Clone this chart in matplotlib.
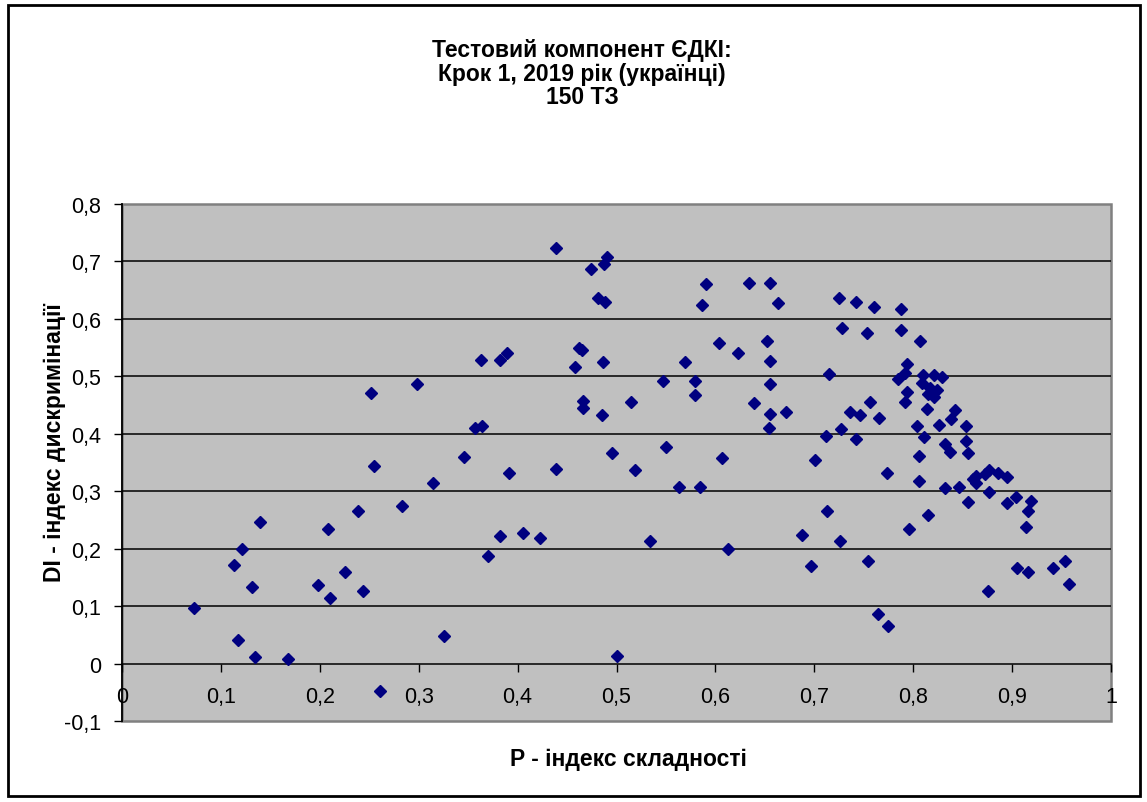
import matplotlib
matplotlib.use("Agg")
import matplotlib.pyplot as plt
from matplotlib.patches import Rectangle
from matplotlib.ticker import FixedLocator, FixedFormatter

plt.rcParams['font.family'] = ['Liberation Sans', 'DejaVu Sans']

title = "Тестовий компонент ЄДКІ:\nКрок 1, 2019 рік (українці)\n150 ТЗ"
x_label = "P - індекс складності"
y_label = "DI - індекс дискримінації"

x_ticks = [0, 0.1, 0.2, 0.3, 0.4, 0.5, 0.6, 0.7, 0.8, 0.9, 1.0]
x_tick_labels = ["0", "0,1", "0,2", "0,3", "0,4", "0,5", "0,6", "0,7", "0,8", "0,9", "1"]
y_ticks = [-0.1, 0, 0.1, 0.2, 0.3, 0.4, 0.5, 0.6, 0.7, 0.8]
y_tick_labels = ["-0,1", "0", "0,1", "0,2", "0,3", "0,4", "0,5", "0,6", "0,7", "0,8"]

P = [0.073, 0.113, 0.121, 0.131, 0.140, 0.117, 0.134, 0.168, 0.198, 0.210,
     0.208, 0.225, 0.239, 0.244, 0.255, 0.283, 0.314, 0.326, 0.261, 0.252,
     0.298, 0.439, 0.474, 0.487, 0.490, 0.481, 0.488, 0.590, 0.586, 0.634,
     0.655, 0.363, 0.382, 0.389, 0.462, 0.465, 0.458, 0.486, 0.604, 0.623,
     0.652, 0.655, 0.569, 0.547, 0.579, 0.579, 0.655, 0.466, 0.466, 0.485,
     0.515, 0.639, 0.655, 0.654, 0.357, 0.364, 0.346, 0.495, 0.550, 0.607,
     0.439, 0.391, 0.519, 0.563, 0.584, 0.382, 0.405, 0.423, 0.370, 0.534,
     0.613, 0.500, 0.663, 0.725, 0.742, 0.760, 0.788, 0.728, 0.753, 0.788,
     0.807, 0.715, 0.794, 0.792, 0.785, 0.810, 0.821, 0.829, 0.809, 0.817,
     0.824, 0.815, 0.821, 0.794, 0.792, 0.814, 0.842, 0.838, 0.826, 0.804,
     0.853, 0.671, 0.736, 0.746, 0.756, 0.765, 0.727, 0.712, 0.742, 0.811,
     0.832, 0.837, 0.853, 0.855, 0.806, 0.701, 0.774, 0.806, 0.832, 0.846,
     0.860, 0.863, 0.863, 0.873, 0.877, 0.886, 0.895, 0.877, 0.855, 0.895,
     0.904, 0.919, 0.916, 0.914, 0.713, 0.815, 0.796, 0.688, 0.726, 0.697,
     0.754, 0.905, 0.916, 0.941, 0.953, 0.958, 0.876, 0.764, 0.775]
DI = [0.097, 0.172, 0.199, 0.133, 0.247, 0.041, 0.011, 0.008, 0.137, 0.114,
      0.235, 0.159, 0.266, 0.126, 0.344, 0.274, 0.314, 0.048, -0.048, 0.471,
      0.487, 0.723, 0.686, 0.695, 0.707, 0.636, 0.629, 0.660, 0.625, 0.663,
      0.663, 0.529, 0.529, 0.540, 0.549, 0.545, 0.517, 0.525, 0.558, 0.541,
      0.561, 0.527, 0.525, 0.492, 0.492, 0.468, 0.487, 0.457, 0.445, 0.433,
      0.456, 0.454, 0.435, 0.410, 0.410, 0.414, 0.360, 0.366, 0.377, 0.357,
      0.339, 0.331, 0.337, 0.308, 0.308, 0.222, 0.227, 0.219, 0.187, 0.214,
      0.200, 0.013, 0.627, 0.636, 0.630, 0.621, 0.617, 0.584, 0.575, 0.580,
      0.562, 0.504, 0.521, 0.506, 0.496, 0.503, 0.503, 0.499, 0.489, 0.479,
      0.477, 0.470, 0.464, 0.473, 0.455, 0.443, 0.442, 0.425, 0.416, 0.414,
      0.413, 0.438, 0.438, 0.433, 0.456, 0.427, 0.409, 0.397, 0.391, 0.394,
      0.383, 0.369, 0.387, 0.366, 0.361, 0.355, 0.331, 0.318, 0.306, 0.307,
      0.321, 0.327, 0.315, 0.330, 0.337, 0.332, 0.324, 0.298, 0.281, 0.279,
      0.290, 0.283, 0.266, 0.237, 0.266, 0.258, 0.235, 0.224, 0.214, 0.170,
      0.178, 0.166, 0.159, 0.166, 0.178, 0.139, 0.126, 0.087, 0.066]

W, H = 1147, 803
fig = plt.figure(figsize=(W / 100, H / 100), dpi=100)
fig.patch.set_facecolor('white')

left, right, top, bottom = 122, 1111, 205, 722
ax = fig.add_axes([left / W, 1 - bottom / H, (right - left) / W, (bottom - top) / H])
ax.set_facecolor('#C0C0C0')
ax.set_xlim(0, 1)
ax.set_ylim(-0.1, 0.8)

# horizontal gridlines
for yv in y_ticks:
    if 0 < yv < 0.8:
        ax.axhline(yv, color='black', lw=1.1, zorder=1)

ax.plot(P, DI, linestyle='none', marker='D', markersize=6.5,
        color='#000080', markeredgecolor='#000080', zorder=3)

# spines
ax.spines['bottom'].set_position(('data', 0))
ax.spines['bottom'].set_color('black')
ax.spines['bottom'].set_linewidth(1.1)
ax.spines['left'].set_color('black')
ax.spines['left'].set_linewidth(1.3)
for s in ['top', 'right']:
    ax.spines[s].set_visible(False)
ax.add_patch(Rectangle((0, 0), 1, 1, transform=ax.transAxes, fill=False,
                       edgecolor='#808080', lw=1.8, clip_on=False, zorder=0.5))

ax.xaxis.set_major_locator(FixedLocator(x_ticks))
ax.xaxis.set_major_formatter(FixedFormatter(x_tick_labels))
ax.yaxis.set_major_locator(FixedLocator(y_ticks))
ax.yaxis.set_major_formatter(FixedFormatter(y_tick_labels))
ax.tick_params(axis='x', direction='out', length=6, width=1, color='black',
               labelsize=15.5, pad=10, labelcolor='black')
ax.tick_params(axis='y', direction='out', length=6, width=1, color='black',
               labelsize=15.5, pad=9, labelcolor='black')

fig.text(628 / W, 1 - 760 / H, x_label, ha='center', va='center',
         fontsize=16.5, fontweight='bold')
fig.text(54 / W, 1 - 443 / H, y_label, ha='center', va='center',
         rotation=90, fontsize=16.5, fontweight='bold')
fig.text(582 / W, 1 - 74 / H, title, ha='center', va='center',
         fontsize=16.5, fontweight='bold', linespacing=1.02)

# figure border
fig.add_artist(Rectangle((8 / W, 1 - 797 / H), (1140 - 8) / W, (797 - 6) / H,
                         transform=fig.transFigure, fill=False,
                         edgecolor='black', lw=2))

fig.savefig('out.png', dpi=100, facecolor='white')
